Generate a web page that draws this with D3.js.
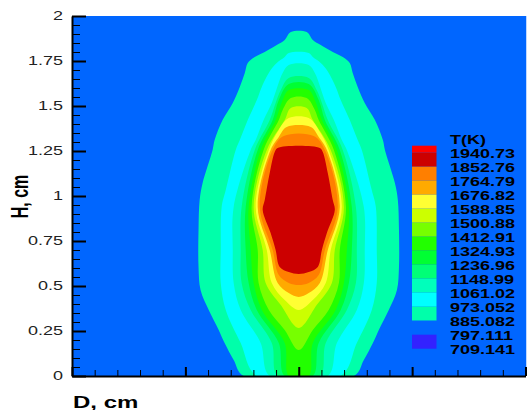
<!DOCTYPE html>
<html>
<head>
<meta charset="utf-8">
<script src="https://cdn.jsdelivr.net/npm/d3@7"></script>
<style>
  html, body { margin: 0; padding: 0; background: #fff; }
  svg { display: block; }
</style>
</head>
<body>
<svg id="chart" width="528" height="410"></svg>
<script>
/**
 * Temperature contour of a flame, D (cm) vs H (cm), drawn with D3.
 * Each contour level is given as a half-width profile [H, D/2] read off
 * the picture; the field is symmetric about D = 0.
 */

// Contour levels, top of legend first (K)
const levels = [1940.73, 1852.76, 1764.79, 1676.82, 1588.85, 1500.88, 1412.91,
  1324.93, 1236.96, 1148.99, 1061.02, 973.052, 885.082, 797.111, 709.141];

// Fill of each band: above levels[0], between each pair, below the last one
const bandColors = ["#ff0000", "#cc0000", "#ff7f00", "#ffaa00", "#ffff33", "#ccff00",
  "#77ff00", "#22ff00", "#00ff33", "#00ff77", "#00ffbb", "#00ffff", "#00ffaa",
  "#0066ff", "#3322ff", "#3322ff"];

const yTicks = [0, 0.25, 0.5, 0.75, 1, 1.25, 1.5, 1.75, 2];
const xMajorTicks = [-1, -0.5, 0, 0.5, 1];

// Half-width profiles [H, half D] of each iso-line, from the top down
const t885 = [[1.911, 0.035], [1.867, 0.062], [1.839, 0.097], [1.800, 0.150], [1.772, 0.194],
  [1.739, 0.225], [1.683, 0.238], [1.606, 0.260], [1.517, 0.291], [1.422, 0.336], [1.311, 0.371],
  [1.256, 0.380], [1.072, 0.424], [0.978, 0.437], [0.811, 0.442], [0.606, 0.442], [0.478, 0.433],
  [0.367, 0.397], [0.256, 0.353], [0.183, 0.327], [0.089, 0.287], [0, 0.243]];
const t973 = [[1.794, 0.044], [1.772, 0.062], [1.739, 0.097], [1.700, 0.124], [1.606, 0.163],
  [1.533, 0.185], [1.422, 0.225], [1.311, 0.260], [1.256, 0.278], [1.033, 0.322], [0.939, 0.340],
  [0.700, 0.344], [0.517, 0.344], [0.367, 0.322], [0.183, 0.256], [0, 0.185]];
const t1061 = [[1.728, 0.044], [1.683, 0.071], [1.517, 0.119], [1.422, 0.155], [1.311, 0.190],
  [1.256, 0.212], [0.939, 0.287], [0.700, 0.291], [0.517, 0.287], [0.367, 0.256], [0.183, 0.168],
  [0, 0.128]];
const t1148 = [[1.656, 0.044], [1.589, 0.079], [1.517, 0.102], [1.422, 0.128], [1.256, 0.194],
  [0.939, 0.252], [0.700, 0.256], [0.517, 0.252], [0.367, 0.212], [0.183, 0.119], [0, 0.093]];
const t1236 = [[1.622, 0.044], [1.533, 0.088], [1.422, 0.115], [1.256, 0.181], [0.939, 0.234],
  [0.700, 0.234], [0.517, 0.221], [0.367, 0.185], [0.183, 0.088], [0, 0.062]];
const t1324 = [[1.589, 0.044], [1.533, 0.071], [1.422, 0.102], [1.256, 0.168], [0.939, 0.221],
  [0.700, 0.212], [0.517, 0.199], [0.367, 0.163], [0.183, 0.062], [0, 0.044]];
const t1412 = [[1.544, 0.035], [1.478, 0.071], [1.422, 0.088], [1.256, 0.155], [0.939, 0.208],
  [0.700, 0.181], [0.517, 0.177], [0.367, 0.132], [0.256, 0.062], [0.144, 0]];
const t1500 = [[1.489, 0.035], [1.422, 0.062], [1.256, 0.141], [0.939, 0.199], [0.700, 0.159],
  [0.517, 0.146], [0.394, 0.079], [0.267, 0]];
const t1588 = [[1.433, 0.044], [1.367, 0.088], [1.256, 0.132], [0.939, 0.190], [0.700, 0.141],
  [0.517, 0.119], [0.422, 0.062], [0.367, 0]];
const t1676 = [[1.383, 0.053], [1.328, 0.088], [1.256, 0.124], [0.939, 0.181], [0.700, 0.128],
  [0.517, 0.093], [0.461, 0.044], [0.439, 0]];
const t1764 = [[1.333, 0.066], [1.256, 0.115], [0.939, 0.172], [0.700, 0.115], [0.561, 0.088],
  [0.517, 0.044], [0.506, 0]];
const t1852 = [[1.267, 0.093], [1.244, 0.106], [1.128, 0.128], [0.978, 0.150], [0.922, 0.159],
  [0.794, 0.124], [0.700, 0.102], [0.606, 0.084], [0.578, 0.044], [0.567, 0]];

// Outermost first, so inner bands paint over outer ones
const outlineLevels = [885.082, 973.052, 1061.02, 1148.99, 1236.96, 1324.93, 1412.91,
  1500.88, 1588.85, 1676.82, 1764.79, 1852.76];
const outlineData = [t885, t973, t1061, t1148, t1236, t1324, t1412, t1500, t1588, t1676, t1764, t1852];

const CONFIG = {
  left: 72, right: 525.5, top: 16, bottom: 376,
  textStretch: 1.5,       // the original glyphs are stretched horizontally
  font: "'Liberation Sans', Arial, Helvetica, sans-serif",
  legendX: 412, legendW: 24.5, legendTop: 152.7, legendBottom: 348.7, legendTextX: 450,
};

const svg = d3.select("#chart");

const x = d3.scaleLinear().domain([-1, 1]).range([CONFIG.left, CONFIG.right]);
const y = d3.scaleLinear().domain([0, 2]).range([CONFIG.bottom, CONFIG.top]);

svg.append("defs").append("clipPath").attr("id", "plot-clip")
  .append("rect")
  .attr("x", CONFIG.left).attr("y", CONFIG.top)
  .attr("width", CONFIG.right - CONFIG.left + 1).attr("height", CONFIG.bottom - CONFIG.top);

const plot = svg.append("g").attr("clip-path", "url(#plot-clip)");

// Ambient band fills the whole domain
plot.append("rect")
  .attr("x", CONFIG.left).attr("y", CONFIG.top)
  .attr("width", CONFIG.right - CONFIG.left + 1).attr("height", CONFIG.bottom - CONFIG.top)
  .attr("fill", bandColors[levels.indexOf(797.111)]);

/**
 * Turn a half-width profile into a closed outline, mirrored about D = 0.
 */
function mirror(profile) {
  const up = profile.slice().sort((a, b) => a[0] - b[0]);
  const right = up.map(([h, w]) => [w, h]);
  const left = up.slice().reverse().filter(([, w]) => w > 0).map(([h, w]) => [-w, h]);
  return right.concat(left);
}

const outline = d3.line()
  .x(d => x(d[0]))
  .y(d => y(d[1]))
  .curve(d3.curveCatmullRomClosed.alpha(0.5));

plot.selectAll(".band")
  .data(outlineLevels.map((lv, i) => ({ level: lv, pts: mirror(outlineData[i]) })))
  .enter()
  .append("path")
  .attr("class", "band")
  .attr("d", d => outline(d.pts))
  .attr("fill", d => bandColors[levels.indexOf(d.level)]);

// Axes: ticks point into the plot
const xMinor = d3.axisBottom(x).tickValues(d3.range(-10, 11).map(k => k / 10))
  .tickSize(-6).tickFormat("");
const xMajor = d3.axisBottom(x).tickValues(xMajorTicks)
  .tickSizeInner(-9).tickSizeOuter(0).tickFormat("");

svg.append("g").attr("transform", `translate(0,${CONFIG.bottom})`).call(xMinor)
  .call(g => g.select(".domain").remove())
  .attr("color", "#000");
svg.append("g").attr("transform", `translate(0,${CONFIG.bottom})`).call(xMajor)
  .attr("color", "#000")
  .call(g => g.selectAll("line").attr("stroke-width", 2))
  .call(g => g.select(".domain").attr("stroke-width", 2));

const yMinor = d3.axisLeft(y).tickValues(d3.range(0, 41).map(k => k / 20))
  .tickSize(-8).tickFormat("");
const yMajor = d3.axisLeft(y).tickValues(yTicks)
  .tickSizeInner(-14).tickSizeOuter(0).tickPadding(6)
  .tickFormat(d3.format("~g"));

svg.append("g").attr("transform", `translate(${CONFIG.left},0)`).call(yMinor)
  .call(g => g.select(".domain").remove())
  .attr("color", "#000");
svg.append("g").attr("transform", `translate(${CONFIG.left},0)`).call(yMajor)
  .attr("color", "#000")
  .attr("font-family", CONFIG.font)
  .attr("font-size", 12)
  .call(g => g.selectAll("line").attr("stroke-width", 2))
  .call(g => g.select(".domain").attr("stroke-width", 2))
  .call(g => g.selectAll("text")
    .attr("fill", "#222")
    .attr("transform", `scale(${CONFIG.textStretch},1)`));

/**
 * Add text stretched horizontally like the original raster.
 */
function stretchedText(parent, tx, ty, str, extra = "") {
  return parent.append("text")
    .attr("transform", `translate(${tx},${ty}) scale(${CONFIG.textStretch},1) ${extra}`)
    .attr("font-family", CONFIG.font)
    .text(str);
}

stretchedText(svg, 73, 408, "D, cm")
  .attr("font-size", 16).attr("font-weight", "bold");
stretchedText(svg, 28, 196.5, "H, cm", "rotate(-90)")
  .attr("font-size", 16).attr("font-weight", "bold").attr("text-anchor", "middle");

// Legend
const legendY = d3.scaleLinear()
  .domain([0, levels.length - 1])
  .range([CONFIG.legendTop, CONFIG.legendBottom]);

const legend = svg.append("g");

legend.selectAll("rect")
  .data(bandColors)
  .enter()
  .append("rect")
  .attr("x", CONFIG.legendX)
  .attr("width", CONFIG.legendW)
  .attr("y", (d, i) => legendY(i === 0 ? -0.5 : i - 1))
  .attr("height", (d, i) => {
    const top = legendY(i === 0 ? -0.5 : i - 1);
    const bottom = legendY(i === bandColors.length - 1 ? i - 1.5 : i);
    return bottom - top;
  })
  .attr("fill", d => d);

stretchedText(legend, CONFIG.legendTextX, legendY(-1) + 5.4, "T(K)")
  .attr("font-size", 12).attr("font-weight", "bold").attr("fill", "#000");

levels.forEach((lv, i) => {
  stretchedText(legend, CONFIG.legendTextX, legendY(i) + 5.6, String(lv))
    .attr("font-size", 12).attr("font-weight", "bold").attr("fill", "#000");
});
</script>
</body>
</html>
